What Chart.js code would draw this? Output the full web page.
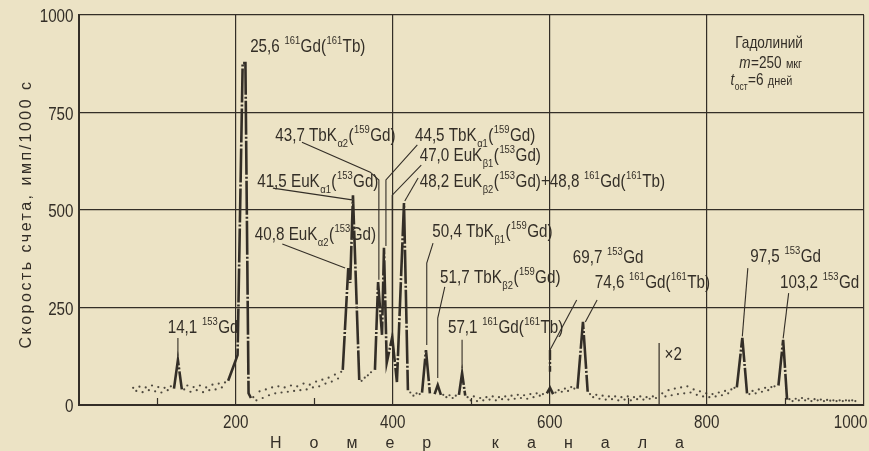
<!DOCTYPE html>
<html lang="ru">
<head>
<meta charset="utf-8">
<title>Гадолиний — аппаратурный спектр</title>
<script src="https://cdn.jsdelivr.net/npm/chart.js@4.4.1/dist/chart.umd.min.js"></script>
<style>
    html, body { margin: 0; padding: 0; background: #ece3c5; }
    .wrap { position: relative; width: 869px; height: 451px; }
</style>
</head>
<body>
<div class="wrap"><canvas id="spectrumChart"></canvas></div>
<script>
const INK = '#332e27';
const DOT = 'rgba(51,46,39,0.85)';
const PLAIN = "'Liberation Sans', 'DejaVu Sans', sans-serif";
const SQUEEZE = 0.8;   // narrow lettering, squeezed horizontally

// axes
const xTicks = [200, 400, 600, 800, 1000];
const xMinorTicks = [100, 300, 500, 700, 900];
const yTicks = [0, 250, 500, 750, 1000];

// dotted background: one reading every 4 channels from each segment start
const BG_STEP = 4;
const bgStarts = [69, 134, 222, 360, 422, 464, 495, 607, 651, 743, 854, 905];
const bgCounts = [
    [44, 36, 47, 33, 45, 38, 50, 35, 46, 32, 44, 38, 48],
    [40, 50, 34, 46, 38, 50, 33, 45, 38, 52, 40, 55, 45, 58],
    [20, 12, 35, 18, 40, 25, 45, 30, 48, 32, 45, 34, 50, 36, 48, 38, 55, 40, 52, 45, 60, 48, 65, 55, 70, 60, 78, 68, 85],
    [62, 70, 76, 84],
    [32, 24, 30, 28],
    [26, 20, 25, 18, 24],
    [20, 12, 22, 10, 18, 12, 20, 14, 22, 12, 20, 15, 22, 14, 24, 16, 26, 18, 25, 16, 28, 20, 30, 24, 28],
    [32, 38, 34, 42, 36, 46, 42],
    [28, 20, 26, 16, 24, 14, 22, 15, 22, 12, 20, 14, 22, 12, 20, 15, 22, 14, 20, 16, 22, 18],
    [30, 22, 38, 25, 42, 28, 45, 30, 48, 32, 40, 26, 35, 22, 30, 20, 28, 22, 32, 25, 36, 30, 40, 44],
    [28, 36, 30, 40, 34, 44, 38, 46, 48],
    [15, 10, 16, 12, 18, 12, 16, 10, 15, 12, 14, 10, 13, 11, 12, 10, 12, 10, 12, 11, 12, 10]
];

// peaks, null separates one trace from the next
const peakChannels = [
    121, 126, 131, null,
    190, 196, 202, 208.5, 212, 216, 219, null,
    336, 343, 345.5, 349, 357, null,
    377, 381, 386, 388.5, 392, 399, 405, 414, 419, null,
    437, 442, 447, null,
    453, 457, 461, null,
    484, 488, 492, null,
    596, 600, 604, null,
    635, 642, 648, null,
    838, 845, 851, null,
    891, 897, 902
];
const peakCounts = [
    42, 115, 40, null,
    62, 95, 128, 877, 877, 30, 18, null,
    90, 351, 313, 538, 64, null,
    90, 315, 180, 403, 108, 174, 59, 518, 38, null,
    32, 141, 30, null,
    28, 51, 26, null,
    26, 82, 24, null,
    30, 44, 28, null,
    42, 213, 34, null,
    45, 172, 30, null,
    50, 167, 14
];

// line labels: ^{} superscript, _{} subscript, ~{} italic, !{} small
const lineLabels = [
    { t: '14,1 ^{153}Gd', ch: 113, cnt: 185 },
    { t: '25,6 ^{161}Gd(^{161}Tb)', ch: 218, cnt: 905 },
    { t: '43,7 TbK_{α2}(^{159}Gd)', ch: 250, cnt: 677 },
    { t: '44,5 TbK_{α1}(^{159}Gd)', ch: 428, cnt: 677 },
    { t: '47,0 EuK_{β1}(^{153}Gd)', ch: 434, cnt: 626 },
    { t: '41,5 EuK_{α1}(^{153}Gd)', ch: 227, cnt: 559 },
    { t: '48,2 EuK_{β2}(^{153}Gd)+48,8 ^{161}Gd(^{161}Tb)', ch: 434, cnt: 559 },
    { t: '40,8 EuK_{α2}(^{153}Gd)', ch: 224, cnt: 423 },
    { t: '50,4 TbK_{β1}(^{159}Gd)', ch: 450, cnt: 431 },
    { t: '51,7 TbK_{β2}(^{159}Gd)', ch: 460, cnt: 313 },
    { t: '57,1 ^{161}Gd(^{161}Tb)', ch: 470, cnt: 185 },
    { t: '69,7 ^{153}Gd', ch: 629, cnt: 364 },
    { t: '74,6 ^{161}Gd(^{161}Tb)', ch: 657, cnt: 300 },
    { t: '97,5 ^{153}Gd', ch: 855, cnt: 367 },
    { t: '103,2 ^{153}Gd', ch: 893, cnt: 300 },
    { t: '×2', ch: 746, cnt: 115 }
];

const infoLines = [
    { t: 'Гадолиний', ch: 836, cnt: 916 },
    { t: '~{m}=250 !{мкг}', ch: 841, cnt: 865 },
    { t: '~{t}_{ост}=6 !{дней}', ch: 830, cnt: 821 }
];

// leader lines from the labels down to their peaks
const leaders = [
    [[126, 172], [126, 126]],
    [[259, 413], [339, 351]],
    [[247, 556], [348, 526]],
    [[284, 674], [371, 597], [382, 577], [382, 321]],
    [[431, 667], [391, 577], [391, 408]],
    [[436, 615], [399, 538], [399, 179]],
    [[432, 582], [415, 523]],
    [[451, 415], [443, 364], [443, 154]],
    [[466, 303], [457, 223], [457, 69]],
    [[488, 167], [488, 95]],
    [[634, 269], [600, 141]],
    [[660, 269], [645, 213]],
    [[852, 351], [845, 176]],
    [[904, 287], [897, 171]]
];
const x2Marker = { ch: 739, top: 159 };

const bgPoints = [];
bgStarts.forEach((start, s) => {
    bgCounts[s].forEach((c, i) => bgPoints.push({ x: start + i * BG_STEP, y: c }));
});
const peakPoints = peakChannels.map((ch, i) =>
    ch === null ? { x: peakChannels[i - 1], y: null } : { x: ch, y: peakCounts[i] });

function runsOf(text) {
    const out = [];
    const re = /([\^_~!])\{([^}]*)\}|([^\^_~!]+)/g;
    let m;
    while ((m = re.exec(text))) {
        if (m[3]) out.push({ t: m[3], mode: '' });
        else out.push({ t: m[2], mode: m[1] });
    }
    return out;
}

// draws a label with sup/subscripts; align: 'left' | 'center' | 'right'
function drawRich(ctx, text, x, y, size, align) {
    const runs = runsOf(text).map(r => {
        let fs = size, dy = 0, style = '';
        if (r.mode === '^') { fs = size * 0.62; dy = -size * 0.42; }
        if (r.mode === '_') { fs = size * 0.62; dy = size * 0.3; }
        if (r.mode === '~') { style = 'italic '; }
        if (r.mode === '!') { fs = size * 0.8; }
        const font = style + fs + 'px ' + PLAIN;
        ctx.font = font;
        return { t: r.t, font, dy, w: ctx.measureText(r.t).width + 0.6 };
    });
    const total = runs.reduce((a, r) => a + r.w, 0) * SQUEEZE;
    let start = x;
    if (align === 'center') start = x - total / 2;
    if (align === 'right') start = x - total;
    ctx.save();
    ctx.translate(start, y);
    ctx.scale(SQUEEZE, 1);
    ctx.textAlign = 'left';
    let cx = 0;
    runs.forEach(r => {
        ctx.font = r.font;
        ctx.fillText(r.t, cx, r.dy);
        cx += r.w;
    });
    ctx.restore();
}

const annotations = {
    id: 'annotations',
    afterDatasetsDraw(chart) {
        const { ctx, scales: { x, y }, chartArea } = chart;
        ctx.save();
        ctx.fillStyle = INK;
        ctx.strokeStyle = INK;

        // short inner ticks at odd hundreds
        ctx.lineWidth = 1.2;
        xMinorTicks.forEach(v => {
            const px = x.getPixelForValue(v);
            ctx.beginPath();
            ctx.moveTo(px, chartArea.bottom);
            ctx.lineTo(px, chartArea.bottom - 7);
            ctx.stroke();
        });

        // leaders
        ctx.lineWidth = 1.1;
        leaders.forEach(path => {
            ctx.beginPath();
            path.forEach(([c, n], i) => {
                const px = x.getPixelForValue(c), py = y.getPixelForValue(n);
                if (i === 0) ctx.moveTo(px, py); else ctx.lineTo(px, py);
            });
            ctx.stroke();
        });
        // heavy stub above the 69,7 peak
        ctx.lineWidth = 2.4;
        ctx.setLineDash([10, 2, 2, 2]);
        ctx.beginPath();
        ctx.moveTo(x.getPixelForValue(600), y.getPixelForValue(141));
        ctx.lineTo(x.getPixelForValue(600), y.getPixelForValue(85));
        ctx.stroke();
        ctx.setLineDash([]);

        // x2 scale change marker
        ctx.lineWidth = 1.2;
        ctx.beginPath();
        ctx.moveTo(x.getPixelForValue(x2Marker.ch), y.getPixelForValue(0));
        ctx.lineTo(x.getPixelForValue(x2Marker.ch), y.getPixelForValue(x2Marker.top));
        ctx.stroke();

        ctx.textBaseline = 'alphabetic';
        lineLabels.forEach(l => drawRich(ctx, l.t, x.getPixelForValue(l.ch), y.getPixelForValue(l.cnt), 19, 'left'));
        infoLines.forEach(l => drawRich(ctx, l.t, x.getPixelForValue(l.ch), y.getPixelForValue(l.cnt), 17, 'left'));

        // tick labels
        xTicks.forEach(v => {
            const px = x.getPixelForValue(v);
            if (px + 16 > chart.width) drawRich(ctx, String(v), chart.width - 1, chartArea.bottom + 23, 19, 'right');
            else drawRich(ctx, String(v), px, chartArea.bottom + 23, 19, 'center');
        });
        yTicks.forEach(v => drawRich(ctx, String(v), chartArea.left - 5, y.getPixelForValue(v) + 7, 19, 'right'));

        // axis titles
        ctx.textAlign = 'left';
        ctx.font = '16px ' + PLAIN;
        ctx.letterSpacing = '28px';
        ctx.fillText('Номер канала', 270, chartArea.bottom + 43);

        ctx.translate(31, (chartArea.top + chartArea.bottom) / 2 + 4);
        ctx.rotate(-Math.PI / 2);
        ctx.letterSpacing = '2.5px';
        ctx.textAlign = 'center';
        ctx.fillText('Скорость счета, имп/1000 с', 0, 0);
        ctx.restore();
    }
};

const ctxSpectrum = document.getElementById('spectrumChart').getContext('2d');
const spectrumChart = new Chart(ctxSpectrum, {
    type: 'scatter',
    data: {
        datasets: [{
            label: 'фон',
            data: bgPoints,
            showLine: false,
            pointRadius: 1.1,
            pointHoverRadius: 1.1,
            pointBackgroundColor: DOT,
            pointBorderWidth: 0
        }, {
            label: 'пики',
            data: peakPoints,
            showLine: true,
            spanGaps: false,
            borderColor: INK,
            borderWidth: 2.6,
            borderDash: [34, 2, 2, 2],
            borderJoinStyle: 'miter',
            pointRadius: 0,
            pointHoverRadius: 0
        }]
    },
    options: {
        responsive: true,
        maintainAspectRatio: false,
        animation: false,
        layout: { padding: { top: 15, right: 5, bottom: 0, left: 0 } },
        plugins: { legend: { display: false }, tooltip: { enabled: false } },
        scales: {
            x: {
                type: 'linear',
                min: 0,
                max: 1000,
                afterFit: s => { s.height = 46; s.paddingLeft = 0; s.paddingRight = 0; },
                ticks: { display: false, stepSize: 200 },
                grid: { color: INK, lineWidth: 1.2, drawTicks: false },
                border: { color: INK, width: 2 }
            },
            y: {
                min: 0,
                max: 1000,
                afterFit: s => { s.width = 79; },
                ticks: { display: false, stepSize: 250 },
                grid: { color: INK, lineWidth: 1.2, drawTicks: false },
                border: { color: INK, width: 2 }
            }
        }
    },
    plugins: [annotations]
});
</script>
</body>
</html>
